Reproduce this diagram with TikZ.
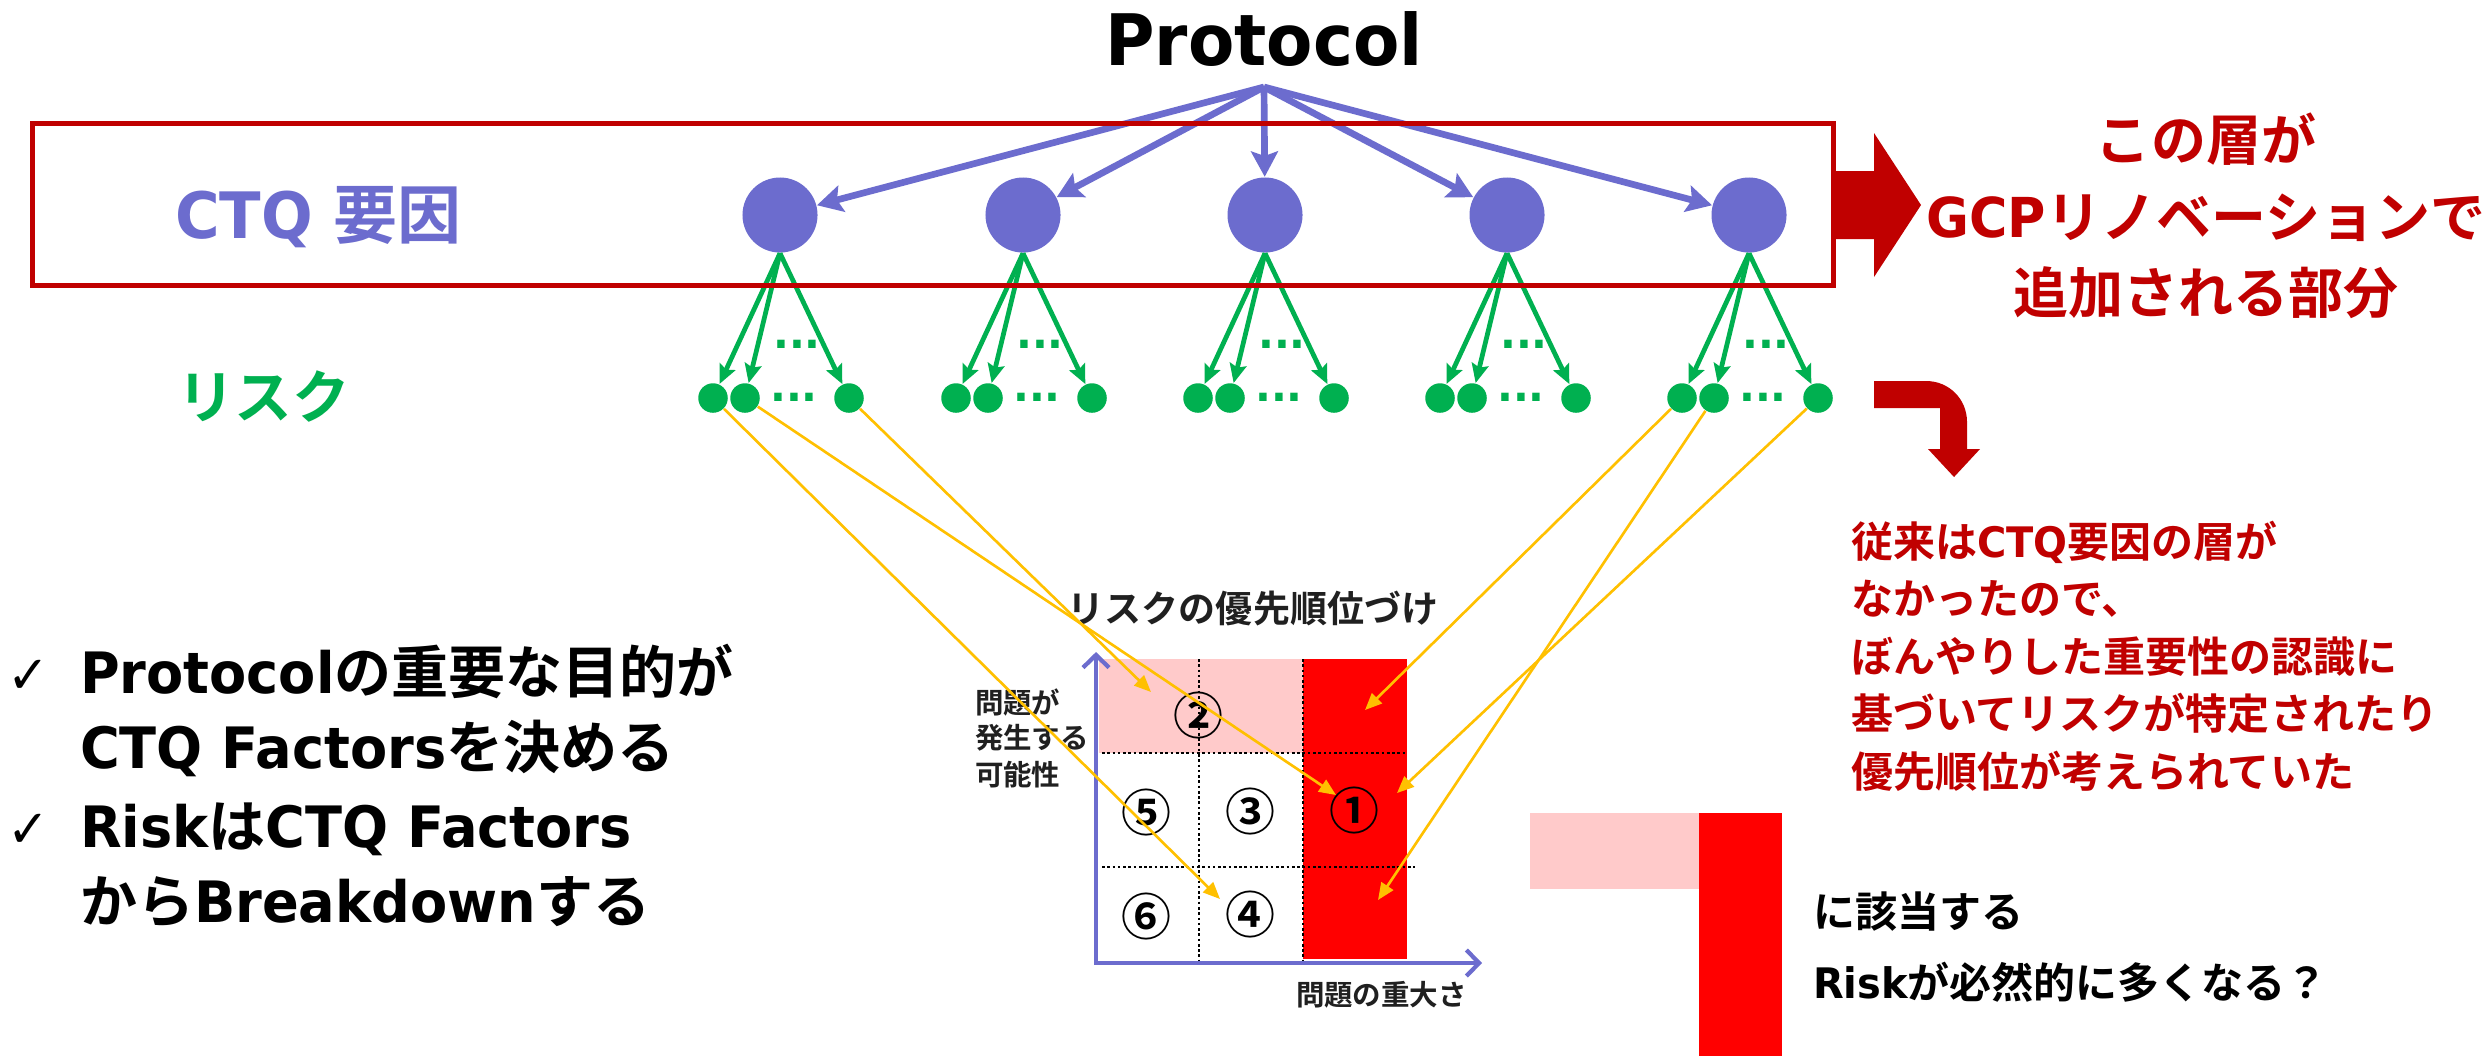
\documentclass[tikz,border=0pt]{standalone}
\usepackage{fontspec}
\setmainfont{Noto Sans CJK JP}[BoldFont={Noto Sans CJK JP Bold}]
\newfontfamily\latfont{DejaVu Sans}[FakeStretch=0.95]
\usetikzlibrary{arrows.meta}
\newcommand\LT[1]{{\latfont\bfseries #1}}

\definecolor{ctqpurple}{RGB}{108,108,206}
\definecolor{riskgreen}{RGB}{0,176,80}
\definecolor{layerred}{RGB}{192,0,0}
\definecolor{hintyellow}{RGB}{255,192,0}
\definecolor{cellpink}{RGB}{255,202,202}
\definecolor{cellred}{RGB}{255,0,0}
\definecolor{charttext}{RGB}{32,32,32}

\tikzset{
  ctq/.style={circle, fill=ctqpurple, minimum size=0.75cm, inner sep=0},
  risk/.style={circle, fill=riskgreen, minimum size=0.295cm, inner sep=0},
  parrow/.style={ctqpurple, line width=1.9pt, -{Stealth[length=7.2pt,width=7.6pt,inset=1.3pt]}},
  garrow/.style={riskgreen, line width=1.35pt, -{Stealth[length=5.4pt,width=4.8pt,inset=0.9pt]}},
  yarrow/.style={hintyellow, line width=0.75pt, -{Triangle[length=4.8pt,width=4pt]}},
  axisline/.style={ctqpurple, line width=1.2pt, {Straight Barb[length=3.6pt,width=7.4pt]}-{Straight Barb[length=3.6pt,width=7.4pt]}},
  griddots/.style={black, line width=0.8pt, dash pattern=on 0.75pt off 0.75pt},
  txt/.style={inner sep=0, outer sep=0},
  titletext/.style={txt, font=\latfont\bfseries\fontsize{20.2pt}{24pt}\selectfont},
  ctqtext/.style={txt, text=ctqpurple, font=\bfseries\fontsize{18.2pt}{22pt}\selectfont},
  risktext/.style={txt, text=riskgreen, font=\bfseries\fontsize{16.4pt}{19pt}\selectfont},
  gdots/.style={txt, text=riskgreen, font=\latfont\bfseries\fontsize{12.5pt}{14pt}\selectfont},
  layernote/.style={txt, text=layerred, font=\bfseries\fontsize{15.65pt}{19pt}\selectfont},
  historynote/.style={txt, text=layerred, font=\bfseries\fontsize{11.95pt}{14pt}\selectfont},
  pointtext/.style={txt, text=black, font=\bfseries\fontsize{16.22pt}{20pt}\selectfont},
  checktext/.style={txt, text=black, font=\latfont\fontsize{15pt}{20pt}\selectfont},
  questiontext/.style={txt, text=black, font=\bfseries\fontsize{11.95pt}{14pt}\selectfont},
  charttitle/.style={txt, text=charttext, font=\bfseries\fontsize{10.53pt}{12pt}\selectfont},
  axislabel/.style={txt, text=charttext, font=\bfseries\fontsize{8.1pt}{10pt}\selectfont},
  cellnum/.style={txt, text=black, font=\bfseries\fontsize{14.2pt}{16pt}\selectfont},
}

\begin{document}
\begin{tikzpicture}[x=0.01cm, y=-0.01cm]
\fill[white] (0,0) rectangle (2486,1056);
\useasboundingbox (0,0) rectangle (2486,1056);

% Protocol and its fan of arrows
\node[titletext, anchor=base] (protocol) at (1264,65) {Protocol};
\coordinate (porig) at (1264,87);

% CTQ factors, their risks and the arrows between them
\foreach \i/\x in {1/780, 2/1023, 3/1265, 4/1507, 5/1749} {
  \node[ctq] (c\i) at (\x,215) {};
  \draw[parrow] (porig) -- (c\i);
  \node[risk] (r\i-1) at (\x-67,398) {};
  \node[risk] (r\i-2) at (\x-35,398) {};
  \node[risk] (r\i-3) at (\x+69,398) {};
  \draw[garrow] (c\i.south) -- (r\i-1);
  \draw[garrow] (c\i.south) -- (r\i-2);
  \draw[garrow] (c\i.south) -- (r\i-3);
  \node[gdots] (u\i) at (\x+17,344) {...};
  \node[gdots] (l\i) at (\x+14,397) {...};
}

% the CTQ layer frame
\node[draw=layerred, line width=1.6pt, minimum width=18.0cm, minimum height=1.62cm, inner sep=0] (layer) at (933,204.5) {};

% row labels
\node[ctqtext, anchor=base west] (ctqlabel) at (175,238) {\LT{CTQ }要因};
\node[risktext, anchor=base west] (risklabel) at (177,418) {リスク};

% block arrow pointing at the note
\fill[layerred] (1836,171) -- (1874,171) -- (1874,133) -- (1921,205) -- (1874,277) -- (1874,239) -- (1836,239) -- cycle;
\node[layernote, anchor=base] (note1) at (2206,160) {この層が};
\node[layernote, anchor=base] (note2) at (2206,237) {\LT{GCP}リノベーションで};
\node[layernote, anchor=base] (note3) at (2206,313) {追加される部分};

% bent arrow down to the history note
\fill[layerred] (1874,381) -- (1926,381) .. controls (1949,381) and (1967,399) .. (1967,422)
  -- (1967,449) -- (1980,449) -- (1954,477) -- (1928,449) -- (1940,449) -- (1940,408) -- (1874,408) -- cycle;
\node[historynote, anchor=base west] (hist1) at (1851,557) {従来は\LT{CTQ}要因の層が};
\node[historynote, anchor=base west] (hist2) at (1851,614) {なかったので、};
\node[historynote, anchor=base west] (hist3) at (1851,672) {ぼんやりした重要性の認識に};
\node[historynote, anchor=base west] (hist4) at (1851,729) {基づいてリスクが特定されたり};
\node[historynote, anchor=base west] (hist5) at (1851,787) {優先順位が考えられていた};

% key points
\node[checktext, anchor=base west] (check1) at (8,693) {✓};
\node[pointtext, anchor=base west] (point1a) at (80,693) {\LT{Protocol}の重要な目的が};
\node[pointtext, anchor=base west] (point1b) at (80,768) {\LT{CTQ Factors}を決める};
\node[checktext, anchor=base west] (check2) at (8,847) {✓};
\node[pointtext, anchor=base west] (point2a) at (80,847) {\LT{Risk}は\LT{CTQ Factors}};
\node[pointtext, anchor=base west] (point2b) at (80,922) {から\LT{Breakdown}する};

% risk priority matrix
\fill[cellpink] (1099,659) rectangle (1303,753);
\fill[cellred] (1303,659) rectangle (1407,959);
\draw[griddots] (1199,659) -- (1199,963);
\draw[griddots] (1303,659) -- (1303,963);
\draw[griddots] (1102,753) -- (1407,753);
\draw[griddots] (1102,867) -- (1415,867);
\coordinate (ytip) at (1096,652);
\coordinate (xtip) at (1482,963);
\draw[axisline] (ytip) |- (xtip);
\node[cellnum] (n2) at (1198,715) {②};
\node[cellnum] (n5) at (1146,812) {⑤};
\node[cellnum] (n3) at (1250,811) {③};
\node[cellnum] (n1) at (1354,810) {①};
\node[cellnum] (n6) at (1146,916) {⑥};
\node[cellnum] (n4) at (1250,914) {④};
\node[charttitle, anchor=base] (mtitle) at (1253,622) {リスクの優先順位づけ};
\node[axislabel, anchor=base west] (ylab1) at (975,713) {問題が};
\node[axislabel, anchor=base west] (ylab2) at (975,748) {発生する};
\node[axislabel, anchor=base west] (ylab3) at (975,785) {可能性};
\node[axislabel, anchor=base west] (xlab) at (1296,1005) {問題の重大さ};

% where each risk lands in the matrix
\coordinate (t1) at (1220,899);
\coordinate (t2) at (1336,795);
\coordinate (t3) at (1151,692);
\coordinate (t4) at (1365,710);
\coordinate (t5) at (1397,793);
\coordinate (t6) at (1378,900);
\draw[yarrow] (r1-1) -- (t1);
\draw[yarrow] (r1-2) -- (t2);
\draw[yarrow] (r1-3) -- (t3);
\draw[yarrow] (r5-1) -- (t4);
\draw[yarrow] (r5-3) -- (t5);
\draw[yarrow] (r5-2) -- (t6);

% legend of the red and pink area
\fill[cellpink] (1530,813) rectangle (1699,889);
\fill[cellred] (1699,813) rectangle (1782,1056);
\node[questiontext, anchor=base west] (q1) at (1813,927) {に該当する};
\node[questiontext, anchor=base west] (q2) at (1813,998) {\LT{Risk}が必然的に多くなる？};
\end{tikzpicture}
\end{document}
